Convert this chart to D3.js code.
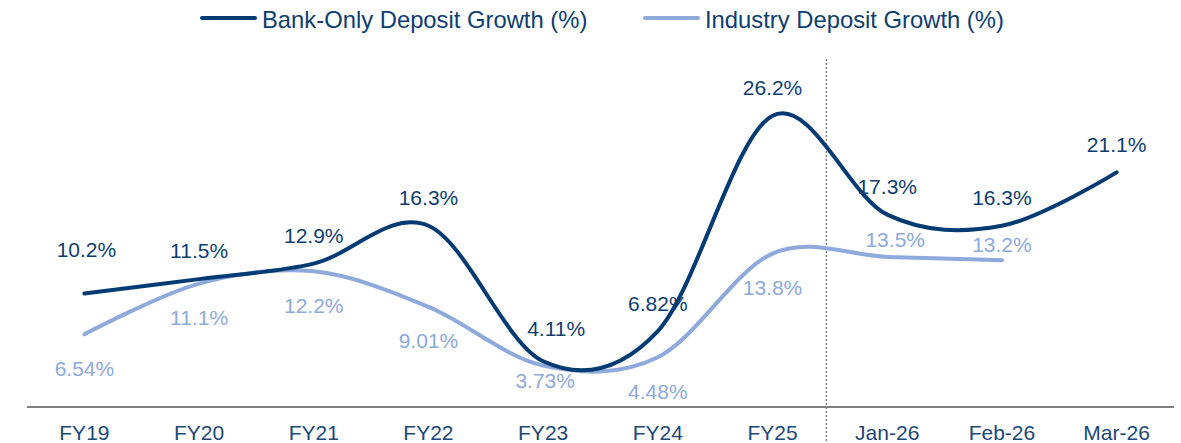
<!DOCTYPE html>
<html>
<head>
<meta charset="utf-8">
<script src="https://cdn.jsdelivr.net/npm/d3@7"></script>
<style>
  html, body { margin: 0; padding: 0; background: #fff; }
  #chart { width: 1181px; height: 443px; }
  text { font-family: "Liberation Sans", Arial, sans-serif; }
</style>
</head>
<body>
<div id="chart"></div>
<script>
//Datos
const categories = ['FY19','FY20','FY21','FY22','FY23','FY24','FY25','Jan-26','Feb-26','Mar-26'];
const bankGrowth = [10.2, 11.5, 12.9, 16.3, 4.11, 6.82, 26.2, 17.3, 16.3, 21.1];
const industryGrowth = [6.54, 11.1, 12.2, 9.01, 3.73, 4.48, 13.8, 13.5, 13.2, null];
const bankLabels = ['10.2%','11.5%','12.9%','16.3%','4.11%','6.82%','26.2%','17.3%','16.3%','21.1%'];
const industryLabels = ['6.54%','11.1%','12.2%','9.01%','3.73%','4.48%','13.8%','13.5%','13.2%',null];
const seriesNames = ['Bank-Only Deposit Growth (%)','Industry Deposit Growth (%)'];

//Colores
const COLOR_DARK = '#023B73',
COLOR_LIGHT = '#8EA9DB',
COLOR_TEXT = '#0E3D70',
COLOR_AXIS = '#7F7F7F';

const width = 1181, height = 443;

let svg = d3.select('#chart')
    .append('svg')
        .attr('width', width)
        .attr('height', height);

let x = d3.scalePoint()
    .domain(categories)
    .range([84.4, 1116.6]);

let step = x.step();

let y = d3.scaleLinear()
    .domain([0, 31.3])
    .range([407, 59]);

//Eje
svg.append('line')
    .attr('x1', x(categories[0]) - step / 2)
    .attr('x2', x(categories[categories.length - 1]) + step / 2)
    .attr('y1', y(0))
    .attr('y2', y(0))
    .attr('stroke', COLOR_AXIS)
    .attr('stroke-width', 1.8);

svg.append('g')
    .selectAll('text')
    .data(categories)
    .enter()
    .append('text')
    .attr('x', d => x(d))
    .attr('y', 433)
    .attr('dy', '0.35em')
    .attr('text-anchor', 'middle')
    .attr('font-size', '21px')
    .attr('fill', '#1B4878')
    .text(d => d);

//Separador
let sepX = x('FY25') + step / 2 - 3.5;
svg.append('line')
    .attr('x1', sepX).attr('x2', sepX)
    .attr('y1', 59).attr('y2', height)
    .attr('stroke', '#808080')
    .attr('stroke-width', 1.5)
    .attr('stroke-dasharray', '2,2');

//Líneas
let line = d3.line()
    .defined(d => d.v != null)
    .x(d => x(d.c))
    .y(d => y(d.v))
    .curve(d3.curveCardinal.tension(0));

let bankData = categories.map((c, i) => ({ c: c, v: bankGrowth[i], l: bankLabels[i], i: i }));
let indData = categories.map((c, i) => ({ c: c, v: industryGrowth[i], l: industryLabels[i], i: i }));

svg.append('path')
    .datum(indData.filter(d => d.v != null))
    .attr('fill', 'none')
    .attr('stroke', COLOR_LIGHT)
    .attr('stroke-width', 4)
    .attr('stroke-linecap', 'round')
    .attr('d', line);

svg.append('path')
    .datum(bankData)
    .attr('fill', 'none')
    .attr('stroke', COLOR_DARK)
    .attr('stroke-width', 4)
    .attr('stroke-linecap', 'round')
    .attr('d', line);

//Etiquetas
function bankOffset(d) {
    if (d.c == 'FY19') return { dx: 2, dy: -44 };
    if (d.c == 'FY23') return { dx: 13, dy: -33 };
    return { dx: 0, dy: -28 };
}
function indOffset(d) {
    if (d.c == 'FY23') return { dx: 2, dy: 15 };
    if (d.c == 'Jan-26') return { dx: 8, dy: -17 };
    if (d.c == 'Feb-26') return { dx: 0, dy: -16 };
    return { dx: 0, dy: 34 };
}

svg.append('g')
    .selectAll('text')
    .data(indData.filter(d => d.v != null))
    .enter()
    .append('text')
    .attr('x', d => x(d.c) + indOffset(d).dx)
    .attr('y', d => y(d.v) + indOffset(d).dy)
    .attr('dy', '0.35em')
    .attr('text-anchor', 'middle')
    .attr('font-size', '21px')
    .attr('fill', COLOR_LIGHT)
    .text(d => d.l);

svg.append('g')
    .selectAll('text')
    .data(bankData)
    .enter()
    .append('text')
    .attr('x', d => x(d.c) + bankOffset(d).dx)
    .attr('y', d => y(d.v) + bankOffset(d).dy)
    .attr('dy', '0.35em')
    .attr('text-anchor', 'middle')
    .attr('font-size', '21px')
    .attr('fill', COLOR_TEXT)
    .text(d => d.l);

//Leyenda
let legend = svg.append('g');
let legendItems = [
    { name: seriesNames[0], color: COLOR_DARK, x: 202 },
    { name: seriesNames[1], color: COLOR_LIGHT, x: 645 }
];
legendItems.forEach(function(item) {
    legend.append('line')
        .attr('x1', item.x).attr('x2', item.x + 53)
        .attr('y1', 18).attr('y2', 18)
        .attr('stroke', item.color)
        .attr('stroke-width', 4)
        .attr('stroke-linecap', 'round');
    legend.append('text')
        .attr('x', item.x + 60)
        .attr('y', 20)
        .attr('dy', '0.35em')
        .attr('font-size', '23.8px')
        .attr('fill', COLOR_TEXT)
        .text(item.name);
});
</script>
</body>
</html>
